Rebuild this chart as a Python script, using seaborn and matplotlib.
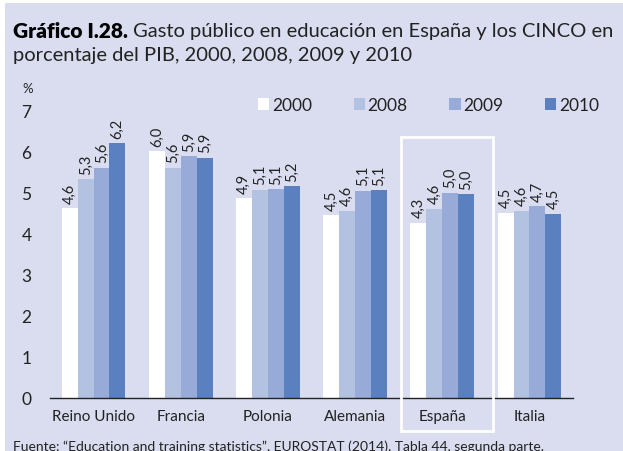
import matplotlib
matplotlib.use("Agg")
import matplotlib.pyplot as plt
import seaborn as sns
import pandas as pd
from matplotlib.patches import Rectangle

paises = ["Reino Unido", "Francia", "Polonia", "Alemania", "España", "Italia"]
anios = ["2000", "2008", "2009", "2010"]
v2000 = [4.63, 6.02, 4.87, 4.46, 4.28, 4.52]
v2008 = [5.33, 5.61, 5.08, 4.57, 4.62, 4.56]
v2009 = [5.62, 5.90, 5.09, 5.06, 5.01, 4.68]
v2010 = [6.21, 5.86, 5.16, 5.07, 4.97, 4.49]
colores = ["#ffffff", "#b4c2e2", "#97aad8", "#5b80c0"]
yticks = [0, 1, 2, 3, 4, 5, 6, 7]

rows = []
for a, vals in zip(anios, [v2000, v2008, v2009, v2010]):
    for p, v in zip(paises, vals):
        rows.append({"pais": p, "anio": a, "valor": v})
df = pd.DataFrame(rows)

sns.set_theme(style="white")
plt.rcParams["font.family"] = ["Lato", "DejaVu Sans"]

BG = "#d9ddef"
TXT = "#222222"
fig = plt.figure(figsize=(6.23, 4.52), dpi=100, facecolor="white")
fig.patches.append(Rectangle((5 / 623, 0), 1, 1 - 4 / 452, transform=fig.transFigure,
                             facecolor=BG, edgecolor="none", zorder=-10))

ax = fig.add_axes([50 / 623, 53 / 452, 523 / 623, 287 / 452])
ax.set_facecolor("none")
sns.barplot(data=df, x="pais", y="valor", hue="anio", palette=colores, saturation=1,
            width=0.73, gap=0, edgecolor="none", linewidth=0, ax=ax, legend=True, errorbar=None)
ax.set_ylim(0, 7)
ax.set_xlim(-0.5, 5.5)
ax.set_yticks(yticks)
ax.set_yticklabels([str(t) for t in yticks])
ax.set_xlabel("")
ax.set_ylabel("")
ax.tick_params(axis="x", length=0, pad=8, labelsize=11, labelcolor=TXT)
ax.tick_params(axis="y", length=0, pad=17, labelsize=12.5, labelcolor=TXT)
for lab in ax.get_yticklabels():
    lab.set_horizontalalignment("center")
for s in ["top", "right", "left"]:
    ax.spines[s].set_visible(False)
ax.spines["bottom"].set_color(TXT)
ax.spines["bottom"].set_linewidth(1.0)

for cont in ax.containers:
    labs = [f"{b.get_height():.1f}".replace(".", ",") for b in cont]
    ax.bar_label(cont, labels=labs, rotation=90, padding=4, fontsize=10.5,
                 color=TXT, clip_on=False)

h, l = ax.get_legend_handles_labels()
leg = ax.legend(h, l, ncol=4, frameon=False, loc="center left",
                bbox_to_anchor=(258 / 623, 1 - 106 / 452), bbox_transform=fig.transFigure,
                fontsize=12.5, handlelength=0.65, handleheight=0.65, handletextpad=0.15,
                columnspacing=2.4, borderaxespad=0, borderpad=0)
for t in leg.get_texts():
    t.set_color(TXT)

fig.text(28 / 623, 1 - 89 / 452, "%", ha="center", va="center", fontsize=9.5, color=TXT)

# recuadro España
fig.patches.append(Rectangle((401 / 623, 1 - 432 / 452), 92 / 623, 294 / 452,
                             transform=fig.transFigure, facecolor="none",
                             edgecolor="white", linewidth=2, zorder=5))

tb = fig.text(13 / 623, 1 - 31 / 452, "Gráfico I.28.", fontsize=15, fontweight="heavy",
              va="center", color="black")
fig.canvas.draw()
bb = tb.get_window_extent(renderer=fig.canvas.get_renderer())
x1 = bb.x1 / fig.bbox.width + 5 / 623
fig.text(x1, 1 - 31 / 452, "Gasto público en educación en España y los CINCO en",
         fontsize=14.5, va="center", color=TXT)
fig.text(13 / 623, 1 - 55 / 452, "porcentaje del PIB, 2000, 2008, 2009 y 2010",
         fontsize=14.5, va="center", color=TXT)
fig.text(13 / 623, 1 - 447 / 452,
         "Fuente: \u201cEducation and training statistics\u201d, EUROSTAT (2014). Tabla 44, segunda parte.",
         fontsize=10, va="center", color=TXT)

fig.savefig("out.png", dpi=100, facecolor="white")
